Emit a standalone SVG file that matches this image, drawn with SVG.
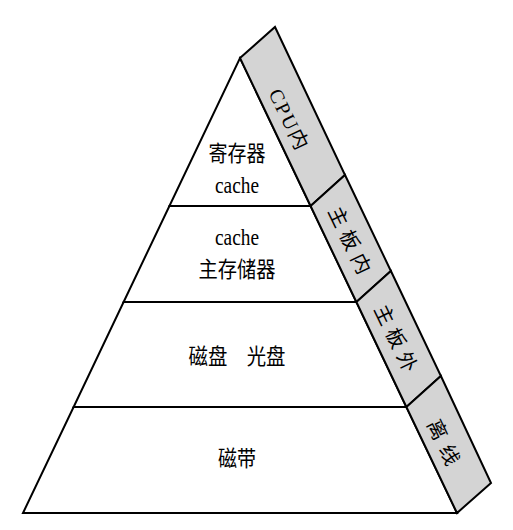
<svg xmlns="http://www.w3.org/2000/svg" width="513" height="530" viewBox="0 0 513 530">
<style>
.layer{fill:#ffffff;stroke:#000;stroke-width:2;stroke-linejoin:miter}
.band{fill:#d4d4d4;stroke:#000;stroke-width:2;stroke-linejoin:miter}
.t{font-family:"Liberation Serif","Noto Sans CJK SC",serif;font-size:22px;fill:#000;text-anchor:middle}
.c{font-size:24px}
.bt{font-family:"Liberation Serif","Noto Sans CJK SC",serif;font-size:20px;fill:#000;text-anchor:middle;dominant-baseline:central}
</style>
<rect width="513" height="530" fill="#fff"/>
<g id="layer-register">
<polygon class="layer" points="240,58 310.6,206 169.4,206"/>
<text class="t" x="237" y="161" textLength="57" lengthAdjust="spacingAndGlyphs">寄存器</text>
<text class="t c" x="237" y="193" textLength="44" lengthAdjust="spacingAndGlyphs">cache</text>
</g>
<g id="layer-main-memory">
<polygon class="layer" points="169.4,206 310.6,206 356.4,302 123.6,302"/>
<text class="t c" x="237" y="245" textLength="44" lengthAdjust="spacingAndGlyphs">cache</text>
<text class="t" x="237" y="277" textLength="77" lengthAdjust="spacingAndGlyphs">主存储器</text>
</g>
<g id="layer-disk">
<polygon class="layer" points="123.6,302 356.4,302 406.4,407 73.6,407"/>
<text class="t" x="237" y="364" textLength="97" lengthAdjust="spacingAndGlyphs">磁盘　光盘</text>
</g>
<g id="layer-tape">
<polygon class="layer" points="73.6,407 406.4,407 457,513 23,513"/>
<text class="t" x="237" y="466" textLength="38" lengthAdjust="spacingAndGlyphs">磁带</text>
</g>
<g id="band-cpu">
<polygon class="band" points="240,58 275,27 345,175 310.6,206"/>
<text class="bt" x="289" y="120" letter-spacing="2" transform="rotate(64.3 289 120)">CPU内</text>
</g>
<g id="band-board-in">
<polygon class="band" points="310.6,206 345,175 390.9,271 356.4,302"/>
<text class="bt" x="351" y="243" letter-spacing="6" transform="rotate(64.3 351 243)">主板内</text>
</g>
<g id="band-board-out">
<polygon class="band" points="356.4,302 390.9,271 440.9,376 406.4,407"/>
<text class="bt" x="397" y="341" letter-spacing="6" transform="rotate(64.3 397 341)">主板外</text>
</g>
<g id="band-offline">
<polygon class="band" points="406.4,407 440.9,376 491,483 457,513"/>
<text class="bt" x="445" y="446" letter-spacing="8" transform="rotate(64.3 445 446)">离线</text>
</g>
</svg>
